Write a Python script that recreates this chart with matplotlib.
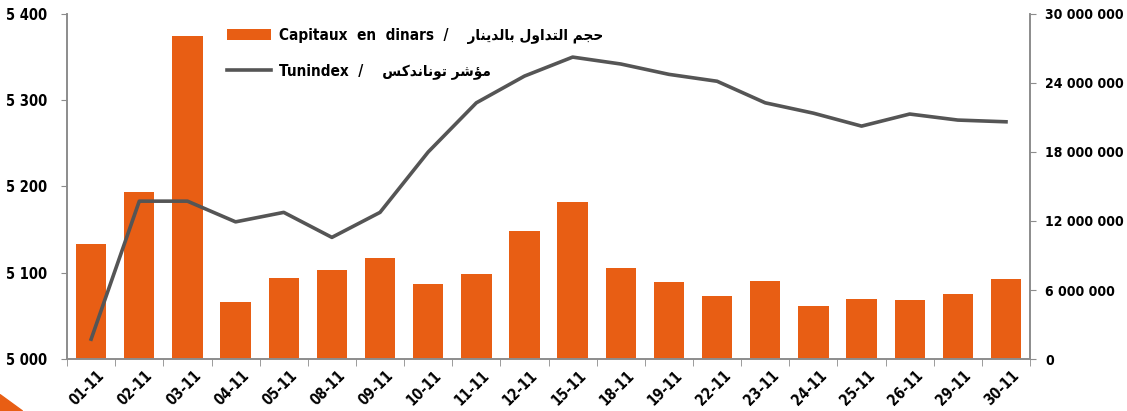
import numpy as np
import matplotlib.pyplot as plt
from matplotlib.patches import Polygon

dates = ["01-11", "02-11", "03-11", "04-11", "05-11", "08-11", "09-11", "10-11",
         "11-11", "12-11", "15-11", "18-11", "19-11", "22-11", "23-11", "24-11",
         "25-11", "26-11", "29-11", "30-11"]
capitaux = [10.0, 14.5, 28.1, 4.96, 7.04, 7.74, 8.78, 6.52, 7.39, 11.13,
            13.65, 7.91, 6.70, 5.48, 6.78, 4.61, 5.22, 5.13, 5.65, 6.96]  # millions de dinars
tunindex = [5023, 5183, 5183, 5159, 5170, 5141, 5170, 5240, 5297, 5328,
            5350, 5342, 5330, 5322, 5297, 5285, 5270, 5284, 5277, 5275]

left_ticks = [5000, 5100, 5200, 5300, 5400]
right_ticks = [0, 6000000, 12000000, 18000000, 24000000, 30000000]

ORANGE = '#E85E14'
GREY = '#555555'
AXC = '#8c8c8c'
FONT = ['DejaVu Sans']

# minimal arabic shaping (matplotlib has no shaping / bidi)
FORMS = {
    '\u0627': ('\uFE8D', '\uFE8E', None, None),
    '\u0628': ('\uFE8F', '\uFE90', '\uFE91', '\uFE92'),
    '\u062A': ('\uFE95', '\uFE96', '\uFE97', '\uFE98'),
    '\u062C': ('\uFE9D', '\uFE9E', '\uFE9F', '\uFEA0'),
    '\u062D': ('\uFEA1', '\uFEA2', '\uFEA3', '\uFEA4'),
    '\u062F': ('\uFEA9', '\uFEAA', None, None),
    '\u0631': ('\uFEAD', '\uFEAE', None, None),
    '\u0633': ('\uFEB1', '\uFEB2', '\uFEB3', '\uFEB4'),
    '\u0634': ('\uFEB5', '\uFEB6', '\uFEB7', '\uFEB8'),
    '\u0643': ('\uFED9', '\uFEDA', '\uFEDB', '\uFEDC'),
    '\u0644': ('\uFEDD', '\uFEDE', '\uFEDF', '\uFEE0'),
    '\u0645': ('\uFEE1', '\uFEE2', '\uFEE3', '\uFEE4'),
    '\u0646': ('\uFEE5', '\uFEE6', '\uFEE7', '\uFEE8'),
    '\u0648': ('\uFEED', '\uFEEE', None, None),
    '\u064A': ('\uFEF1', '\uFEF2', '\uFEF3', '\uFEF4'),
    '\u0624': ('\uFE85', '\uFE86', None, None),
}


def shape(text):
    out = []
    for i, c in enumerate(text):
        if c not in FORMS:
            out.append(c)
            continue
        prev = text[i - 1] if i > 0 else ''
        nxt = text[i + 1] if i + 1 < len(text) else ''
        jp = prev in FORMS and FORMS[prev][2] is not None
        jn = nxt in FORMS and FORMS[c][2] is not None
        iso, fin, ini, med = FORMS[c]
        if jp and jn:
            out.append(med)
        elif jp:
            out.append(fin)
        elif jn:
            out.append(ini)
        else:
            out.append(iso)
    return ''.join(out)[::-1]


lab_bar = "Capitaux  en  dinars  /    " + shape("حجم التداول بالدينار")
lab_line = "Tunindex  /    " + shape("مؤشر توناندكس")

plt.rcParams['font.family'] = FONT
plt.rcParams['font.stretch'] = 'condensed'
plt.rcParams['font.size'] = 10.5

fig = plt.figure(figsize=(11.27, 4.11), dpi=100)
ax = fig.add_axes([0.0595, 0.1265, 0.8545, 0.8395])
ax2 = ax.twinx()

x = np.arange(len(dates))
bars = ax2.bar(x, np.array(capitaux) * 1e6, width=0.63, color=ORANGE, label=lab_bar)
line, = ax.plot(x, tunindex, color=GREY, lw=2.6, label=lab_line)

ax.set_zorder(ax2.get_zorder() + 1)
ax.patch.set_visible(False)

ax.set_xlim(-0.5, len(dates) - 0.5)
ax.set_ylim(5000, 5400)
ax2.set_ylim(0, 30000000)

ax.set_yticks(left_ticks)
ax.set_yticklabels([f"{v:,}".replace(',', ' ') for v in left_ticks], fontweight='bold')
ax2.set_yticks(right_ticks)
ax2.set_yticklabels([f"{v:,}".replace(',', ' ') for v in right_ticks], fontweight='bold',
                    fontsize=10)

ax.set_xticks(x + 0.12)
ax.set_xticklabels(dates, rotation=45, ha='right', rotation_mode='anchor', fontweight='bold')
ax.set_xticks(np.arange(len(dates) + 1) - 0.5, minor=True)
ax.tick_params(axis='x', which='major', length=0, pad=6)
ax.tick_params(axis='x', which='minor', length=5, color=AXC)
ax.tick_params(axis='y', length=4, color=AXC, pad=10)
ax2.tick_params(axis='y', length=4, color=AXC, pad=7)

for a in (ax, ax2):
    a.spines['top'].set_visible(False)
    for s in ('left', 'right', 'bottom'):
        a.spines[s].set_color(AXC)
        a.spines[s].set_linewidth(1.2)

ax.legend(handles=[bars, line], loc='upper left', bbox_to_anchor=(0.152, 1.0),
          frameon=False, handlelength=2.9, handleheight=0.7, labelspacing=1.3,
          handletextpad=0.5,
          prop={'family': FONT, 'size': 11, 'weight': 'bold', 'stretch': 'condensed'})

fig.patches.append(Polygon([[0, 0], [0, 0.04], [0.02, 0]], closed=True,
                           transform=fig.transFigure, color=ORANGE))

fig.savefig('out.png', dpi=100)
